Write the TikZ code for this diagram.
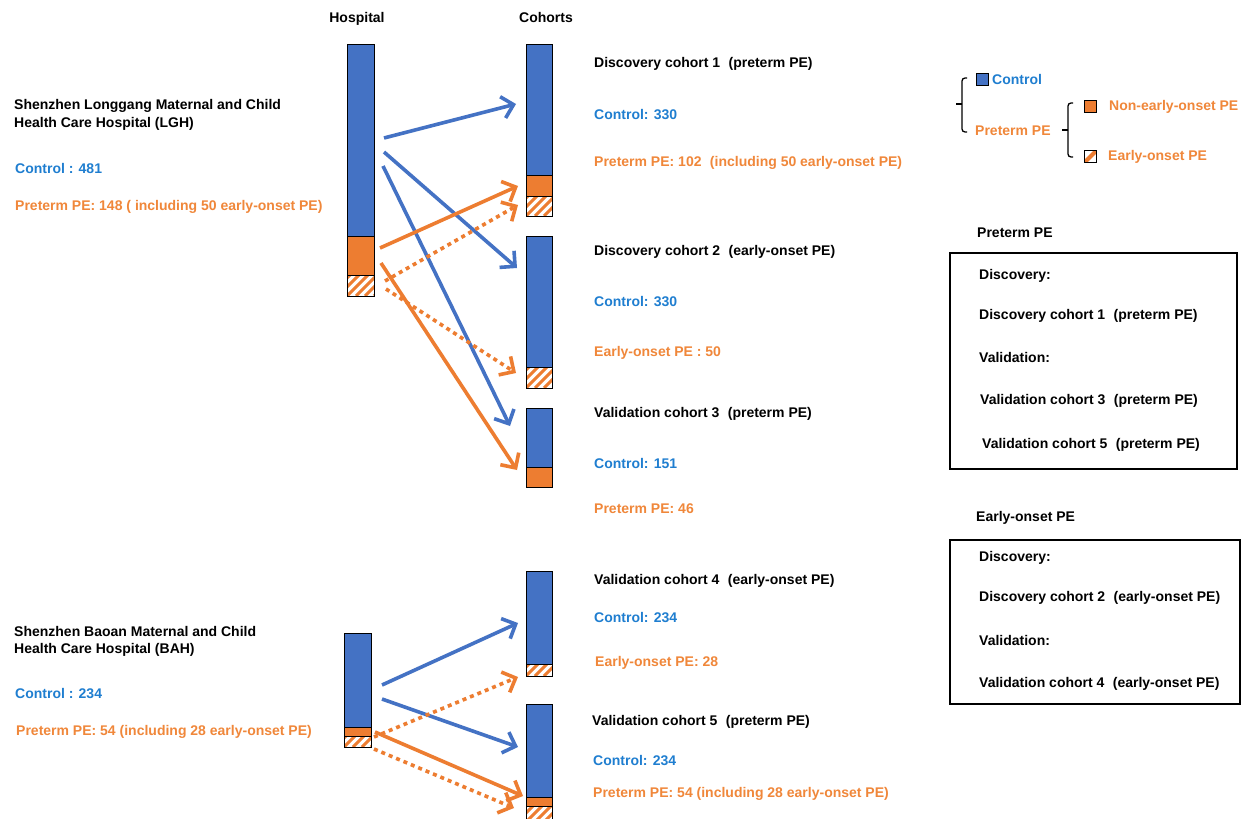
\documentclass[tikz,border=0pt]{standalone}
\usepackage{fontspec}
\setmainfont{Liberation Sans}
\usetikzlibrary{arrows.meta}
\definecolor{barblue}{HTML}{4472C4}
\definecolor{barorange}{HTML}{ED7D31}
\definecolor{tblue}{HTML}{1F7ED0}
\definecolor{torange}{HTML}{F0873A}
\newcommand\fw{\hspace{0.6em}(}
\newcommand\hatchbox[4]{%
  \begin{scope}
    \clip (#1,#2) rectangle (#3,#4);
    \fill[white] (#1,#2) rectangle (#3,#4);
    \foreach \k in {-45,-36,...,45} \draw[barorange, line width=3pt] ({#1+\k},#4) -- ++(40,-40);
  \end{scope}
  \draw[line width=0.9pt] (#1,#2) rectangle (#3,#4);
}
\newcommand\colbox[5]{%
  \fill[#5] (#1,#2) rectangle (#3,#4);
  \draw[line width=0.9pt] (#1,#2) rectangle (#3,#4);
}
\begin{document}
\begin{tikzpicture}[x=1pt,y=-1pt,
  lbl/.style={anchor=base west, font=\bfseries\fontsize{14}{16}\selectfont, inner sep=0pt},
  bk/.style={lbl, text=black},
  bl/.style={lbl, text=tblue},
  og/.style={lbl, text=torange},
  arr/.style={line width=3.6pt, -{Straight Barb[length=11pt,width=22pt,line width=3.6pt]}},
  barrow/.style={arr, draw=barblue},
  oarrow/.style={arr, draw=barorange},
  odot/.style={oarrow, dash pattern=on 4pt off 4pt},
  frame/.style={draw, line width=1.4pt},
  brace/.style={line width=1.3pt, rounded corners=3pt}]
\useasboundingbox (0,0) rectangle (1243,819);
\fill[white] (0,0) rectangle (1243,819);

% headers
\node[bk, anchor=base] (hh) at (357,23) {Hospital};
\node[bk, anchor=base] (hc) at (546,23) {Cohorts};

% LGH texts
\node[bk] (lgh1) at (14,109) {Shenzhen Longgang Maternal and Child};
\node[bk] (lgh2) at (14,127) {Health Care Hospital (LGH)};
\node[bl] (lghc) at (15,173) {Control : 481};
\node[og] (lghp) at (15,210) {Preterm PE: 148 ( including 50 early-onset PE)};

% BAH texts
\node[bk] (bah1) at (14,636) {Shenzhen Baoan Maternal and Child};
\node[bk] (bah2) at (14,653) {Health Care Hospital (BAH)};
\node[bl] (bahc) at (15,698) {Control : 234};
\node[og] (bahp) at (16,735) {Preterm PE: 54 (including 28 early-onset PE)};

% LGH bar
\colbox{347}{44}{374}{236}{barblue}
\colbox{347}{236}{374}{275}{barorange}
\hatchbox{347}{275}{374}{296}
% cohort 1
\colbox{526}{44}{552}{175}{barblue}
\colbox{526}{175}{552}{196}{barorange}
\hatchbox{526}{196}{552}{216}
% cohort 2
\colbox{526}{236}{552}{367}{barblue}
\hatchbox{526}{367}{552}{388}
% cohort 3
\colbox{526}{408}{552}{467}{barblue}
\colbox{526}{467}{552}{487}{barorange}
% BAH bar
\colbox{344}{633}{371}{727}{barblue}
\colbox{344}{727}{371}{736}{barorange}
\hatchbox{344}{736}{371}{747}
% cohort 4
\colbox{526}{571}{552}{664}{barblue}
\hatchbox{526}{664}{552}{676}
% cohort 5
\colbox{526}{704}{552}{797}{barblue}
\colbox{526}{797}{552}{806}{barorange}
\hatchbox{526}{806}{552}{822}

% cohort texts
\node[bk] (c1) at (594,67) {Discovery cohort 1\fw preterm PE)};
\node[bl] (c1c) at (594,119) {Control: 330};
\node[og] (c1p) at (594,166) {Preterm PE: 102\fw including 50 early-onset PE)};
\node[bk] (c2) at (594,255) {Discovery cohort 2\fw early-onset PE)};
\node[bl] (c2c) at (594,306) {Control: 330};
\node[og] (c2p) at (594,356) {Early-onset PE : 50};
\node[bk] (c3) at (594,417) {Validation cohort 3\fw preterm PE)};
\node[bl] (c3c) at (594,468) {Control: 151};
\node[og] (c3p) at (594,513) {Preterm PE: 46};
\node[bk] (c4) at (594,584) {Validation cohort 4\fw early-onset PE)};
\node[bl] (c4c) at (594,622) {Control: 234};
\node[og] (c4p) at (595,666) {Early-onset PE: 28};
\node[bk] (c5) at (592,725) {Validation cohort 5\fw preterm PE)};
\node[bl] (c5c) at (593,765) {Control: 234};
\node[og] (c5p) at (593,797) {Preterm PE: 54 (including 28 early-onset PE)};

% arrow end points
\coordinate (a1s) at (384,138); \coordinate (a1e) at (516,104);
\coordinate (a2s) at (384,152); \coordinate (a2e) at (517,268);
\coordinate (a3s) at (383,166); \coordinate (a3e) at (510,426);
\coordinate (a4s) at (380,248); \coordinate (a4e) at (518,186);
\coordinate (a5s) at (385,281); \coordinate (a5e) at (518,205);
\coordinate (a6s) at (381,263); \coordinate (a6e) at (517,470);
\coordinate (a7s) at (386,289); \coordinate (a7e) at (516,373);
\coordinate (b1s) at (382,685); \coordinate (b1e) at (518,623);
\coordinate (b2s) at (382,699); \coordinate (b2e) at (518,747);
\coordinate (b3s) at (374,737); \coordinate (b3e) at (518,677);
\coordinate (b4s) at (375,732); \coordinate (b4e) at (523,796);
\coordinate (b5s) at (374,749); \coordinate (b5e) at (514,808);

\draw[barrow] (a1s) -- (a1e);
\draw[barrow] (a2s) -- (a2e);
\draw[barrow] (a3s) -- (a3e);
\draw[oarrow] (a4s) -- (a4e);
\draw[odot] (a5s) -- (a5e);
\draw[oarrow] (a6s) -- (a6e);
\draw[odot] (a7s) -- (a7e);
\draw[barrow] (b1s) -- (b1e);
\draw[barrow] (b2s) -- (b2e);
\draw[odot] (b3s) -- (b3e);
\draw[oarrow] (b4s) -- (b4e);
\draw[odot] (b5s) -- (b5e);

% legend
\colbox{976}{73}{988}{85}{barblue}
\node[bl] (lgc) at (992,84) {Control};
\node[og] (lgp) at (975,135) {Preterm PE};
\draw[brace] (967,78) -- (962,78) -- (962,132) -- (967,132);
\draw[line width=1.3pt] (962,104) -- (956,104);
\draw[brace] (1073,103) -- (1068,103) -- (1068,157) -- (1073,157);
\draw[line width=1.3pt] (1068,130) -- (1062,130);
\colbox{1084}{100}{1096}{112}{barorange}
\node[og] (lgn) at (1109,110) {Non-early-onset PE};
\begin{scope}
  \clip (1084,150) rectangle (1096,162);
  \fill[white] (1084,150) rectangle (1096,162);
  \draw[barorange, line width=4pt] (1085,162) -- (1097,150);
\end{scope}
\draw[line width=0.9pt] (1084,150) rectangle (1096,162);
\node[og] (lge) at (1108,160) {Early-onset PE};

% right boxes
\node[bk] (rp) at (977,237) {Preterm PE};
\draw[frame] (950,253) rectangle (1237,469);
\node[bk] (rp1) at (979,279) {Discovery:};
\node[bk] (rp2) at (979,319) {Discovery cohort 1\fw preterm PE)};
\node[bk] (rp3) at (979,362) {Validation:};
\node[bk] (rp4) at (980,404) {Validation cohort 3\fw preterm PE)};
\node[bk] (rp5) at (982,448) {Validation cohort 5\fw preterm PE)};

\node[bk] (re) at (976,521) {Early-onset PE};
\draw[frame] (950,540) rectangle (1240,704);
\node[bk] (re1) at (979,561) {Discovery:};
\node[bk] (re2) at (979,601) {Discovery cohort 2\fw early-onset PE)};
\node[bk] (re3) at (979,645) {Validation:};
\node[bk] (re4) at (979,687) {Validation cohort 4\fw early-onset PE)};
\end{tikzpicture}
\end{document}
